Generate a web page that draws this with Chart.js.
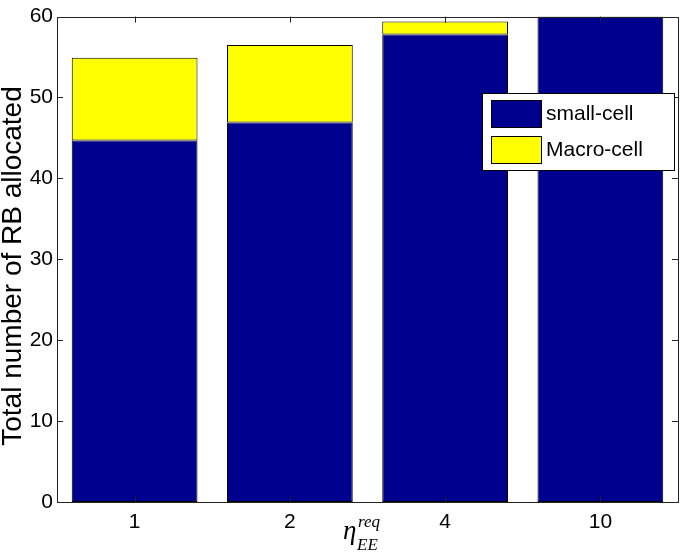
<!DOCTYPE html>
<html>
<head>
<meta charset="utf-8">
<script src="https://cdn.jsdelivr.net/npm/chart.js@4.4.0/dist/chart.umd.min.js"></script>
<style>
  html, body { margin: 0; padding: 0; background: #fff; }
  canvas { display: block; }
</style>
</head>
<body>
<canvas id="rbChart" width="685" height="553"></canvas>
<script>
// eta_EE^req values on the x axis
const categories = ['1', '2', '4', '10'];
// RB allocated per tier (stacked)
const smallCell = [44.7, 46.9, 57.8, 60];
const macroCell = [10.2, 9.6, 1.6, 0];
const yTicks = [0, 10, 20, 30, 40, 50, 60];

const FONT = "'Liberation Sans', Arial, Helvetica, sans-serif";
const SERIF = "'Liberation Serif', 'DejaVu Serif', serif";

// box, inward ticks, legend and axis titles, MATLAB style
const matlabLook = {
  id: 'matlabLook',
  afterDatasetsDraw(chart) {
    const ctx = chart.ctx;
    const a = chart.chartArea;
    const x = chart.scales.x, y = chart.scales.y;
    ctx.save();
    ctx.strokeStyle = '#222';
    ctx.lineWidth = 1;
    ctx.strokeRect(Math.round(a.left) + 0.5, Math.round(a.top) + 0.5,
      Math.round(a.right - a.left), Math.round(a.bottom - a.top));

    ctx.beginPath();
    yTicks.forEach(v => {
      const py = Math.round(y.getPixelForValue(v)) + 0.5;
      ctx.moveTo(a.left, py); ctx.lineTo(a.left + 6, py);
      ctx.moveTo(a.right, py); ctx.lineTo(a.right - 6, py);
    });
    categories.forEach((c, i) => {
      const px = Math.round(x.getPixelForValue(i)) + 0.5;
      ctx.moveTo(px, a.bottom); ctx.lineTo(px, a.bottom - 6);
      ctx.moveTo(px, a.top); ctx.lineTo(px, a.top + 6);
    });
    ctx.stroke();

    // legend inside the axes
    const lx = 482, ly = 93, lw = 192, lh = 77;
    ctx.fillStyle = '#fff';
    ctx.fillRect(lx, ly, lw, lh);
    ctx.strokeStyle = '#000';
    ctx.strokeRect(lx + 0.5, ly + 0.5, lw, lh);
    ctx.font = '21px ' + FONT;
    ctx.textBaseline = 'middle';
    ctx.textAlign = 'left';
    chart.data.datasets.forEach((ds, i) => {
      const sy = ly + 7 + i * 36;
      ctx.fillStyle = ds.backgroundColor;
      ctx.fillRect(lx + 9, sy, 50, 27);
      ctx.strokeStyle = '#000';
      ctx.strokeRect(lx + 9.5, sy + 0.5, 50, 27);
      ctx.fillStyle = '#000';
      ctx.fillText(ds.label, lx + 64, sy + 14);
    });

    // y axis title
    ctx.save();
    ctx.translate(21, 266);
    ctx.rotate(-Math.PI / 2);
    ctx.textAlign = 'center';
    ctx.textBaseline = 'alphabetic';
    ctx.font = '28px ' + FONT;
    ctx.fillText('Total number of RB allocated', 0, 0);
    ctx.restore();

    // x axis title: eta_EE^req
    ctx.textBaseline = 'alphabetic';
    ctx.textAlign = 'left';
    ctx.font = 'italic 27px ' + SERIF;
    ctx.fillText('\u03B7', 343, 539);
    ctx.font = 'italic 17px ' + SERIF;
    ctx.fillText('req', 358, 527);
    ctx.fillText('EE', 357, 550);
    ctx.restore();
  }
};

new Chart(document.getElementById('rbChart'), {
  type: 'bar',
  data: {
    labels: categories,
    datasets: [
      {
        label: 'small-cell',
        data: smallCell,
        backgroundColor: '#00008F',
        borderColor: '#000',
        borderWidth: 1,
        borderSkipped: false,
        barPercentage: 0.81,
        categoryPercentage: 1
      },
      {
        label: 'Macro-cell',
        data: macroCell,
        backgroundColor: '#FFFF00',
        borderColor: '#000',
        borderWidth: 1,
        borderSkipped: false,
        barPercentage: 0.81,
        categoryPercentage: 1
      }
    ]
  },
  options: {
    responsive: false,
    animation: false,
    devicePixelRatio: 1,
    layout: { padding: { top: 8, right: 7, bottom: 0, left: 0 } },
    plugins: {
      legend: { display: false },
      tooltip: { enabled: false }
    },
    scales: {
      x: {
        stacked: true,
        grid: { display: false, drawTicks: false },
        border: { display: false },
        ticks: { color: '#000', font: { size: 21, family: FONT }, padding: 8 },
        afterFit: s => { s.height = 51; }
      },
      y: {
        stacked: true,
        min: 0,
        max: 60,
        grid: { display: false, drawTicks: false },
        border: { display: false },
        ticks: { stepSize: 10, color: '#000', font: { size: 21, family: FONT }, padding: 4 },
        afterFit: s => { s.width = 57; }
      }
    }
  },
  plugins: [matlabLook]
});
</script>
</body>
</html>
